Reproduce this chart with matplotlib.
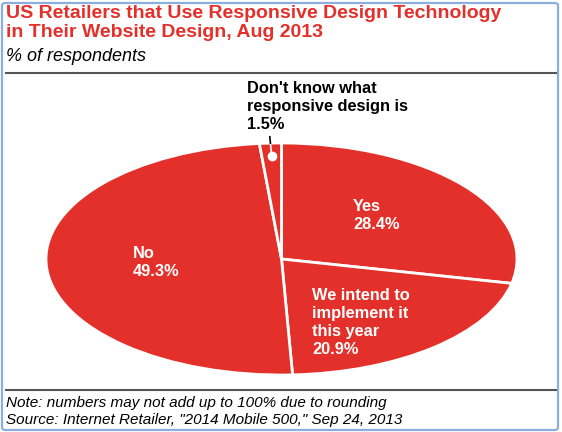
import matplotlib
matplotlib.use("Agg")
import matplotlib.pyplot as plt
import numpy as np
from matplotlib.patches import FancyBboxPatch
from matplotlib.lines import Line2D

# datos
categorias = ["Yes", "We intend to\nimplement it\nthis year", "No", "Don't know what\nresponsive design is"]
valores = [28.4, 20.9, 49.3, 1.5]

rojo = "#e3302a"
plt.rcParams['font.family'] = ['Liberation Sans', 'DejaVu Sans']

fig = plt.figure(figsize=(5.62, 4.32), dpi=100)
W, H = 562, 432

# borde azul redondeado
borde = FancyBboxPatch((2 / W, 2 / H), 556 / W, 427 / H,
                       boxstyle="round,pad=0,rounding_size=0.006",
                       transform=fig.transFigure, fill=False,
                       edgecolor="#8aaee0", linewidth=1.6)
fig.patches.append(borde)

# titulo
fig.text(6 / W, 1 - 5 / H, "US Retailers that Use Responsive Design Technology\nin Their Website Design, Aug 2013",
         color=rojo, fontsize=14, fontweight='bold', va='top', ha='left', linespacing=1.12)
fig.text(6 / W, 1 - 48 / H, "% of respondents", fontsize=13, style='italic', va='top', ha='left')
fig.lines.append(Line2D([6 / W, 556 / W], [1 - 73 / H, 1 - 73 / H], transform=fig.transFigure,
                        color="#555555", linewidth=1.5))

# notas
fig.lines.append(Line2D([6 / W, 556 / W], [1 - 390 / H, 1 - 390 / H], transform=fig.transFigure,
                        color="#555555", linewidth=1.5))
fig.text(6 / W, 1 - 396 / H, "Note: numbers may not add up to 100% due to rounding\n"
         "Source: Internet Retailer, \"2014 Mobile 500,\" Sep 24, 2013",
         fontsize=11, style='italic', va='top', ha='left', linespacing=1.25)

# pastel elíptico
ax = fig.add_axes([46 / W, 57 / H, 471 / W, 232 / H])
wedges, _ = ax.pie(valores, startangle=90, counterclock=False, colors=[rojo] * 4,
                   wedgeprops=dict(edgecolor='white', linewidth=2))
ax.set_aspect('auto')
ax.set_xlim(-1, 1)
ax.set_ylim(-1, 1)

# etiquetas
fmt = dict(color='white', fontsize=11.8, fontweight='bold', ha='left', va='center', linespacing=1.25)
ax.text(0.304, 0.375, f"{categorias[0]}\n{valores[0]}%", **fmt)
ax.text(0.13, -0.547, f"{categorias[1]}\n{valores[1]}%", **fmt)
ax.text(-0.63, -0.026, f"{categorias[2]}\n{valores[2]}%", **fmt)
ax.text(-0.146, 1.315, f"{categorias[3]}\n{valores[3]}%", color='black', fontsize=11.8,
        fontweight='bold', ha='left', va='center', linespacing=1.25, clip_on=False)

# marcador del segmento pequeño
ang = np.deg2rad(wedges[3].theta1 + (wedges[3].theta2 - wedges[3].theta1) / 2)
cx, cy = np.cos(ang), np.sin(ang)
ax.plot([cx * 0.89, cx], [cy * 0.89, cy], color='white', linewidth=1.2, clip_on=False)
ax.plot([cx, cx * 1.055], [cy, cy * 1.055], color='black', linewidth=1.2, clip_on=False)
ax.plot([cx * 0.89], [cy * 0.89], 'o', color='white', markersize=6, clip_on=False)

plt.savefig("out.png", dpi=100)
